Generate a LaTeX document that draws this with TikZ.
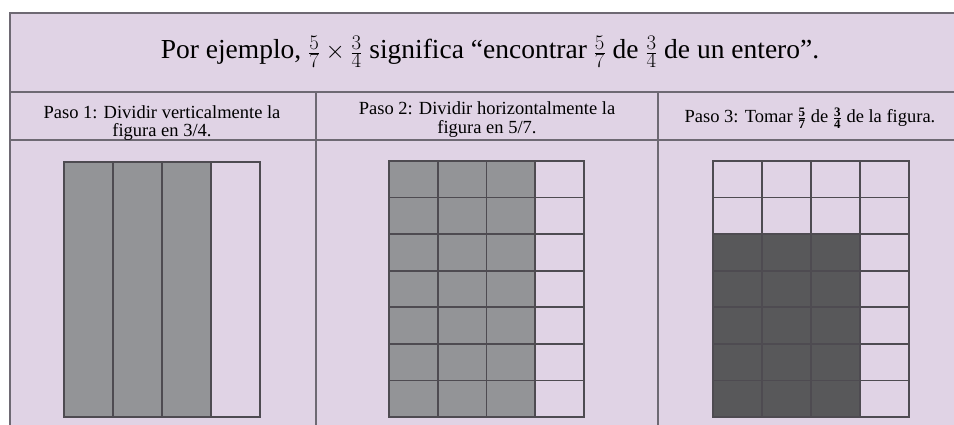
\documentclass[tikz,border=0pt]{standalone}
\usepackage{fontspec}
\setmainfont{Liberation Serif}
\definecolor{lila}{HTML}{E0D3E5}
\definecolor{gris}{HTML}{939497}
\definecolor{oscuro}{HTML}{58585A}
\definecolor{borde}{HTML}{6E6973}
\definecolor{rejilla}{HTML}{4E4B51}

\begin{document}
\begin{tikzpicture}[
    x=1pt, y=-1pt,
    tabla/.style={draw=borde, line width=2.5pt},
    celda/.style={draw=rejilla, line width=1.8pt},
    paso/.style={font=\fontsize{18.5}{18.5}\selectfont},
    every node/.style={inner sep=0pt, align=center}
]
  \useasboundingbox (0,0) rectangle (954,425);

  % table
  \fill[lila] (10,13) rectangle (954,425);
  \draw[tabla] (954,13) -- (10,13) -- (10,425);
  \draw[tabla] (10,92) -- (954,92);
  \draw[tabla] (10,140) -- (954,140);
  \draw[tabla] (316,92) -- (316,425);
  \draw[tabla] (658,92) -- (658,425);

  % texts
  \node[anchor=base, font=\fontsize{27.5}{30}\selectfont] (titulo) at (490,59)
    {Por ejemplo, $\frac{5}{7}\times\frac{3}{4}$ significa “encontrar $\frac{5}{7}$ de $\frac{3}{4}$ de un entero”.};
  \node[paso] (paso1) at (162,123) {Paso 1: Dividir verticalmente la\\figura en 3/4.};
  \node[paso] (paso2) at (487,119.5) {Paso 2: Dividir horizontalmente la\\figura en 5/7.};
  \node[paso, anchor=base] (paso3) at (810,123)
    {Paso 3: Tomar $\frac{\mathbf{5}}{\mathbf{7}}$ de $\frac{\mathbf{3}}{\mathbf{4}}$ de la figura.};

  % paso 1
  \begin{scope}[shift={(64,162)}]
    \fill[gris] (0,0) rectangle (147,255);
    \foreach \i in {1,...,3} \draw[celda] (49*\i,0) -- (49*\i,255);
    \draw[celda] (0,0) rectangle (196,255);
  \end{scope}

  % paso 2
  \begin{scope}[shift={(389,161)}]
    \fill[gris] (0,0) rectangle (146.25,256);
    \foreach \i in {1,...,3} \draw[celda] (48.75*\i,0) -- (48.75*\i,256);
    \foreach \j in {1,...,6} \draw[celda] (0,256*\j/7) -- (195,256*\j/7);
    \draw[celda] (0,0) rectangle (195,256);
  \end{scope}

  % paso 3
  \begin{scope}[shift={(713,161)}]
    \fill[oscuro] (0,256*2/7) rectangle (147,256);
    \foreach \i in {1,...,3} \draw[celda] (49*\i,0) -- (49*\i,256);
    \foreach \j in {1,...,6} \draw[celda] (0,256*\j/7) -- (196,256*\j/7);
    \draw[celda] (0,0) rectangle (196,256);
  \end{scope}
\end{tikzpicture}
\end{document}
